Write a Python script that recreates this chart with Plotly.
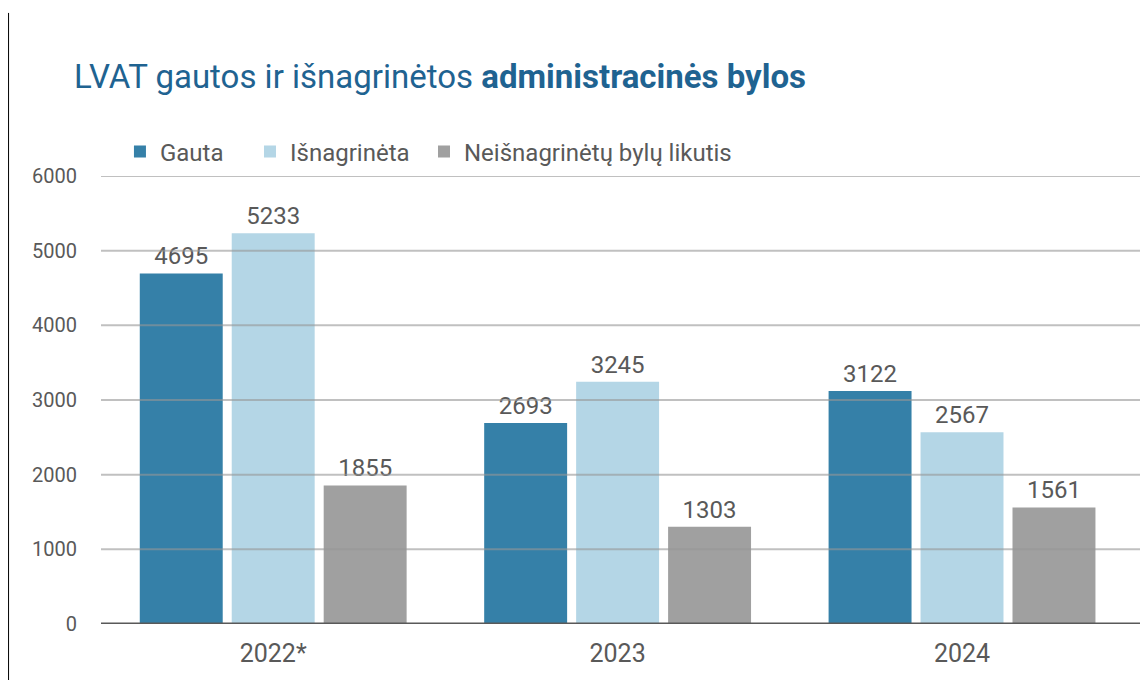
import plotly.graph_objects as go

categories = ["2022*", "2023", "2024"]
gauta = [4695, 2693, 3122]
isnagrineta = [5233, 3245, 2567]
likutis = [1855, 1303, 1561]
series_names = ["Gauta", "Išnagrinėta", "Neišnagrinėtų bylų likutis"]
colors = ["#3580a8", "#b4d6e6", "#a0a0a0"]
y_ticks = [0, 1000, 2000, 3000, 4000, 5000, 6000]

FONT = "Roboto, sans-serif"
GREY = "#595959"

legend_ids = ["legend", "legend2", "legend3"]
legend_x = [0.0181, 0.1423, 0.3085]

fig = go.Figure()
for name, vals, col, lid in zip(series_names, [gauta, isnagrineta, likutis], colors, legend_ids):
    fig.add_trace(go.Bar(
        x=categories, y=vals, name=name, marker=dict(color=col, line=dict(width=0)),
        text=[str(v) for v in vals], textposition="outside",
        textfont=dict(size=24, color=GREY, family=FONT),
        cliponaxis=False, legend=lid,
    ))

shapes = []
for t in y_ticks[1:]:
    shapes.append(dict(type="line", xref="paper", yref="y", x0=0, x1=1, y0=t, y1=t,
                       line=dict(color="rgba(150,150,150,0.6)", width=2), layer="above"))
shapes.append(dict(type="line", xref="paper", yref="y", x0=0, x1=1, y0=0, y1=0,
                   line=dict(color=GREY, width=3), layer="above"))
# left page border
shapes.append(dict(type="line", xref="paper", yref="paper", x0=-0.0883, x1=-0.0883,
                   y0=1.364, y1=-0.2, line=dict(color="black", width=1)))

legend_common = dict(orientation="h", xanchor="left", y=1.0536, yanchor="middle",
                     font=dict(size=24, color=GREY, family=FONT), bgcolor="rgba(0,0,0,0)")

fig.update_layout(
    width=1140, height=672,
    margin=dict(l=93, r=0, t=168, b=56),
    paper_bgcolor="white", plot_bgcolor="white",
    font=dict(family=FONT, color=GREY),
    barmode="group", bargap=0.199, bargroupgap=0.098,
    showlegend=True,
    legend=dict(x=legend_x[0], **legend_common),
    legend2=dict(x=legend_x[1], **legend_common),
    legend3=dict(x=legend_x[2], **legend_common),
    xaxis=dict(range=[-0.5, 2.54], showgrid=False, showline=False, ticks="",
               tickfont=dict(size=25, color=GREY, family=FONT), ticklabelstandoff=12),
    yaxis=dict(range=[0, 6000], tickvals=y_ticks, showgrid=False, zeroline=False,
               showline=False, ticks="", tickfont=dict(size=20, color=GREY, family=FONT),
               ticklabelstandoff=23),
    shapes=shapes,
    annotations=[dict(
        text="LVAT gautos ir išnagrinėtos <b>administracinės bylos</b>",
        xref="paper", yref="paper", x=-0.0277, y=1.221, xanchor="left", yanchor="middle",
        showarrow=False, font=dict(size=33, color="#1f6391", family=FONT))],
)

fig.write_html("out.html")
